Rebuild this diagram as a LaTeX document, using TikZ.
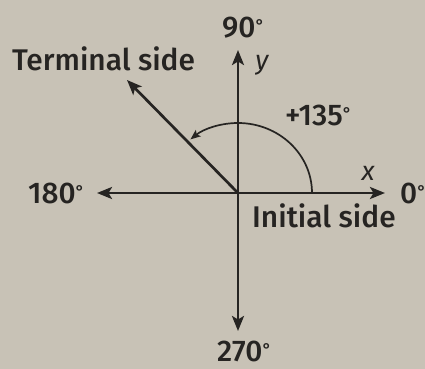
\documentclass[tikz,border=0pt]{standalone}
\usepackage{fontspec}
\setmainfont{Fira Sans}[UprightFont=* Medium, ItalicFont=* Italic]
\usetikzlibrary{arrows.meta}
\definecolor{paper}{RGB}{200,194,182}
\definecolor{ink}{RGB}{38,36,34}
\newcommand\dgs{{\fontsize{17}{17}\selectfont\raisebox{0.33em}{°}}}
\begin{document}
\begin{tikzpicture}[x=1bp,y=1bp,
  axis/.style={ink,line width=2.7bp,-{Stealth[length=15bp,width=12bp,inset=3.5bp]}},
  lbl/.style={ink,font=\fontsize{30}{32}\selectfont,inner sep=0pt,anchor=base west},
  var/.style={ink,font=\fontsize{27}{28}\selectfont\itshape,inner sep=0pt}]
\fill[paper] (0,0) rectangle (425,369);
\useasboundingbox (0,0) rectangle (425,369);
\coordinate (O) at (238,176);
\coordinate (E) at (385,176);
\coordinate (W) at (97,176);
\coordinate (N) at (238,319);
\coordinate (S) at (238,38);
\coordinate (T) at (127,289);
\coordinate (A0) at (312,176);
\draw[axis] (O) -- (E);
\draw[axis] (O) -- (W);
\draw[axis] (O) -- (N);
\draw[axis] (O) -- (S);
\draw[axis] (O) -- (T);
\draw[ink,line width=1.7bp,-{Stealth[length=10bp,width=8bp,inset=2bp]}] (A0) arc[start angle=0,end angle=130,x radius=74,y radius=70];
\node[lbl] (l90) at (222,332) {90\dgs};
\node[lbl] (lterm) at (12,299) {Terminal side};
\node[var] (ly) at (262,304) {y};
\node[lbl] (l135) at (285,244) {+135\dgs};
\node[var] (lx) at (368,196) {x};
\node[lbl] (l0) at (400,166) {0\dgs};
\node[lbl] (l180) at (28,166) {180\dgs};
\node[lbl] (linit) at (252,142) {Initial side};
\node[lbl] (l270) at (217,8) {270\dgs};
\end{tikzpicture}
\end{document}
